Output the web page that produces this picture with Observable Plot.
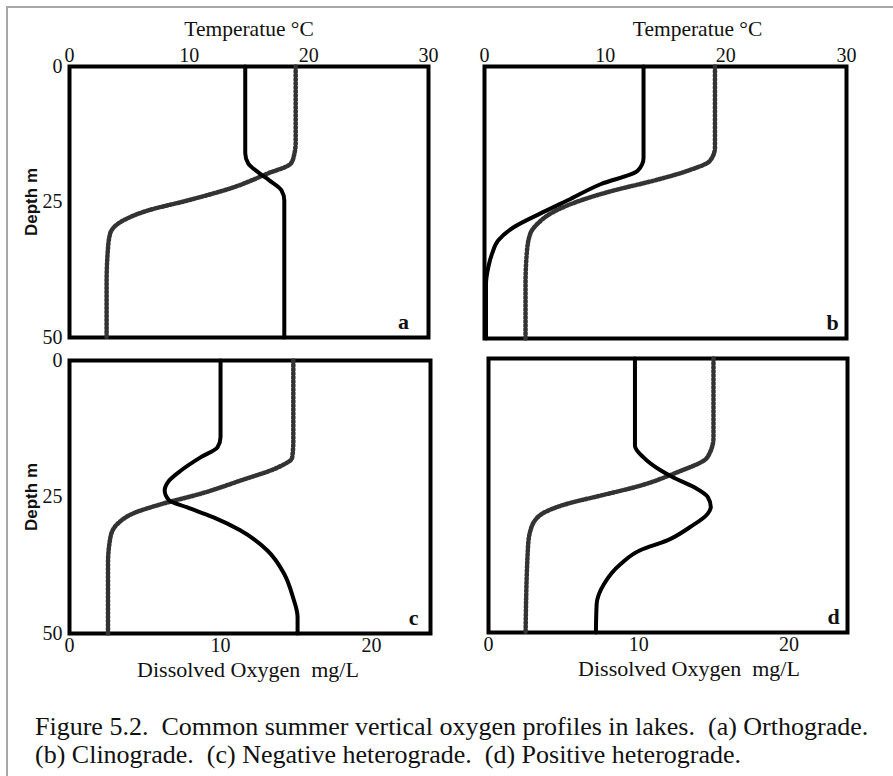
<!DOCTYPE html>
<html><head><meta charset="utf-8">
<script src="https://cdn.jsdelivr.net/npm/d3@7"></script>
<script src="https://cdn.jsdelivr.net/npm/@observablehq/plot@0.6"></script>
<style>
body{margin:0;background:#fff;}
#fig{position:relative;width:893px;height:776px;overflow:hidden;background:#fff;}
#fig .border{position:absolute;left:6px;top:6px;right:-10px;bottom:-10px;border-top:2px solid #a8a8a8;border-left:2px solid #a8a8a8;}
#fig svg{position:absolute;overflow:visible;}
.caption{position:absolute;left:35px;top:713px;font-family:"Liberation Serif",serif;font-size:26px;line-height:28px;color:#111;}
.caption div{white-space:pre;}
</style></head>
<body><div id="fig"><div class="border"></div><div class="caption" id="caption"></div></div>
<script>
// ---- text / ticks ----
const depthTicks = [0, 25, 50];
const tempTicks = [0, 10, 20, 30];
const oxygenTicks = [0, 10, 20];
const tempDomain = [0, 30];
const oxygenDomain = [0, 23.9];
const depthDomain = [0, 50];
const panelLetters = ["a", "b", "c", "d"];
const topAxisTitle = "Temperatue °C";
const bottomAxisTitle = "Dissolved Oxygen  mg/L";
const depthTitle = "Depth m";
const captionLines = [
  "Figure 5.2.  Common summer vertical oxygen profiles in lakes.  (a) Orthograde.",
  "(b) Clinograde.  (c) Negative heterograde.  (d) Positive heterograde."
];

// ---- panel a (orthograde) ----
const tempDepthA = [0, 14, 16, 17.9, 19.8, 22.3, 24.7, 26.6, 28.4, 30.8, 34, 40, 50];
const tempA      = [18.9, 18.9, 18.8, 18.5, 16.5, 13.7, 9.9, 6.5, 4.5, 3.4, 3.2, 3.1, 3.1];
const oxyDepthA  = [0, 16, 17.9, 19.8, 21.0, 22.8, 24.7, 27, 50];
const oxyA       = [11.7, 11.7, 11.9, 12.7, 13.3, 14.1, 14.3, 14.3, 14.3];

// ---- panel b (clinograde) ----
const tempDepthB = [0, 14.9, 17.3, 19.2, 21, 22.8, 24.6, 27, 28.9, 30.7, 34.4, 40, 50];
const tempB      = [19.1, 19.1, 18.7, 16.8, 14.0, 10.7, 8.0, 5.5, 4.4, 3.8, 3.5, 3.4, 3.4];
const oxyDepthB  = [0, 16.8, 19.2, 21.6, 24.6, 27, 29.6, 32, 34.4, 36.9, 40, 50];
const oxyB       = [10.5, 10.5, 10.1, 7.7, 5.5, 3.7, 1.9, 0.9, 0.5, 0.25, 0.1, 0.1];

// ---- panel c (negative heterograde) ----
const tempDepthC = [0, 14.7, 17.8, 19.6, 22, 24.4, 26.2, 28, 29.9, 32.4, 37.2, 50];
const tempC      = [18.6, 18.6, 18.5, 17.3, 14.2, 10.9, 7.8, 5.3, 4.0, 3.4, 3.2, 3.2];
const oxyDepthC  = [0, 14.0, 15.9, 17.7, 20.1, 22.0, 23.8, 25.6, 26.9, 28.7, 31.1, 34.8, 39.0, 43.4, 47.0, 50];
const oxyC       = [10.0, 10.0, 9.8, 8.7, 7.4, 6.6, 6.3, 6.6, 7.8, 9.5, 11.3, 13.1, 14.2, 14.8, 15.1, 15.1];

// ---- panel d (positive heterograde) ----
const tempDepthD = [0, 14.4, 18.0, 21.0, 23.2, 25.0, 26.5, 28.6, 31.4, 34.4, 50];
const tempD      = [18.8, 18.8, 18.3, 15.5, 12.7, 9.4, 6.6, 4.3, 3.5, 3.3, 3.1];
const oxyDepthD  = [0, 15.9, 18.0, 20.4, 21.7, 23.5, 25.3, 27.1, 28.3, 30.8, 33.2, 35.0, 37.5, 41.1, 44.8, 50];
const oxyD       = [9.75, 9.75, 10.3, 11.45, 12.3, 13.7, 14.6, 14.8, 14.6, 13.4, 11.9, 10.1, 8.8, 7.7, 7.2, 7.15];

const panels = [
  {letter: panelLetters[0], fx: 69, fy: 66, fw: 359, fh: 271, tD: tempDepthA, t: tempA, oD: oxyDepthA, o: oxyA, top: true, bottom: false, depth: true, titleDx: 0, letterDx: -25},
  {letter: panelLetters[1], fx: 484, fy: 66, fw: 362, fh: 272, tD: tempDepthB, t: tempB, oD: oxyDepthB, o: oxyB, top: true, bottom: false, depth: false, titleDx: 32, letterDx: -14},
  {letter: panelLetters[2], fx: 69, fy: 360, fw: 361, fh: 273, tD: tempDepthC, t: tempC, oD: oxyDepthC, o: oxyC, top: false, bottom: true, depth: true, titleDx: -2, letterDx: -17},
  {letter: panelLetters[3], fx: 488, fy: 358, fw: 359, fh: 274, tD: tempDepthD, t: tempD, oD: oxyDepthD, o: oxyD, top: false, bottom: true, depth: false, titleDx: 21, letterDx: -14}
];

const fig = document.getElementById("fig");
const M = {marginLeft: 70, marginRight: 30, marginTop: 70, marginBottom: 50};
const serif = "Liberation Serif, Times New Roman, serif";

function place(el, p) {
  el.style.left = (p.fx - M.marginLeft) + "px";
  el.style.top = (p.fy - M.marginTop) + "px";
  fig.appendChild(el);
}

for (const p of panels) {
  const width = p.fw + M.marginLeft + M.marginRight;
  const height = p.fh + M.marginTop + M.marginBottom;
  const tData = p.tD.map((d, i) => ({depth: d, value: p.t[i]}));
  const oData = p.oD.map((d, i) => ({depth: d, value: p.o[i]}));
  const style = {fontFamily: serif, fontSize: "20px", background: "transparent", color: "#111", overflow: "visible"};

  // temperature layer (top axis), frame, depth axis, letter
  const tempPlot = Plot.plot({
    width, height, ...M, style,
    x: {domain: tempDomain, axis: p.top ? undefined : null},
    y: {domain: depthDomain, reverse: true, axis: p.depth ? undefined : null},
    marks: [
      Plot.frame({stroke: "#000", strokeWidth: 4}),
      Plot.line(tData, {x: "value", y: "depth", curve: "monotone-y", stroke: "#333", strokeWidth: 4.5, strokeDasharray: "2,2"}),
      p.top ? Plot.axisX({anchor: "top", ticks: tempTicks, tickSize: 0, tickPadding: 5, label: null, fontSize: 20}) : null,
      p.top ? Plot.text([topAxisTitle], {frameAnchor: "top", dx: p.titleDx, dy: -37, lineAnchor: "middle", fontSize: 21.5}) : null,
      p.depth ? Plot.axisY({anchor: "left", ticks: depthTicks, tickSize: 0, tickPadding: 7, label: null, fontSize: 20}) : null,
      p.depth ? Plot.text([depthTitle], {frameAnchor: "left", dx: -38, rotate: -90, textAnchor: "middle", lineAnchor: "middle", fontFamily: "Liberation Sans", fontWeight: "bold", fontSize: 17}) : null,
      Plot.text([p.letter], {frameAnchor: "bottom-right", dx: p.letterDx, dy: -16, textAnchor: "middle", lineAnchor: "middle", fontWeight: "bold", fontSize: 22})
    ]
  });
  place(tempPlot, p);

  // oxygen layer (bottom axis)
  const oxyPlot = Plot.plot({
    width, height, ...M, style,
    x: {domain: oxygenDomain, axis: p.bottom ? undefined : null},
    y: {domain: depthDomain, reverse: true, axis: null},
    marks: [
      Plot.line(oData, {x: "value", y: "depth", curve: "monotone-y", stroke: "#000", strokeWidth: 4}),
      p.bottom ? Plot.axisX({anchor: "bottom", ticks: oxygenTicks, tickSize: 0, tickPadding: 4, label: null, fontSize: 20}) : null,
      p.bottom ? Plot.text([bottomAxisTitle], {frameAnchor: "bottom", dx: p.titleDx, dy: 36, lineAnchor: "middle", fontSize: 22, style: "white-space:pre"}) : null
    ]
  });
  place(oxyPlot, p);
}

// caption
const cap = document.getElementById("caption");
for (const line of captionLines) {
  const div = document.createElement("div");
  div.textContent = line;
  cap.appendChild(div);
}
</script>
</body></html>
